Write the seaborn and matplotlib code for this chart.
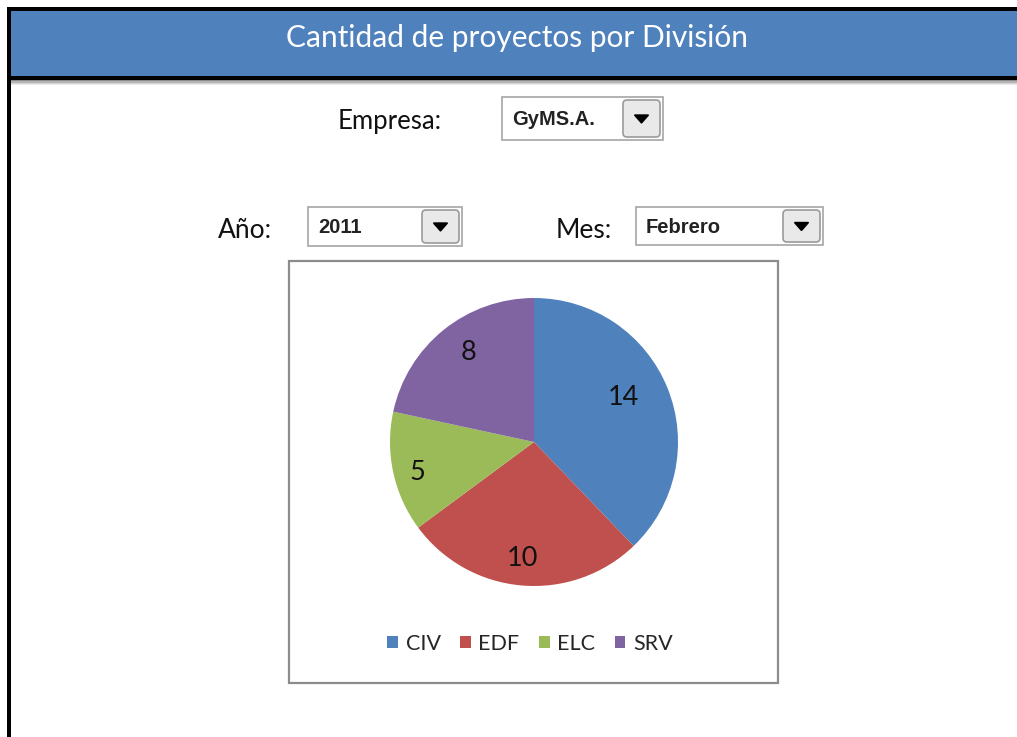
import numpy as np
import matplotlib
matplotlib.use("Agg")
import matplotlib.pyplot as plt
from matplotlib.patches import Rectangle, FancyBboxPatch, Polygon
import seaborn as sns

# data
divisions = ["CIV", "EDF", "ELC", "SRV"]
projects = [14, 10, 5, 8]
title = "Cantidad de proyectos por División"
empresa = "GyMS.A."
anio = "2011"
mes = "Febrero"

W, H = 1017, 737

sns.set_theme(style="white")
plt.rcParams['font.family'] = ['Lato', 'DejaVu Sans']
colors = ["#4F81BD", "#C0504D", "#9BBB59", "#8064A2"]


def combo(ax, x0, y0, x1, y1, text):
    # white field with a grey frame and the little arrow button
    ax.add_patch(Rectangle((x0, y0), x1 - x0, y1 - y0, facecolor="white",
                           edgecolor="#a6a6a6", lw=1.2))
    ax.text(x0 + 10, (y0 + y1) / 2 + 1, text, ha="left", va="center",
            fontsize=14.5, fontweight="bold", color="#222222",
            family=["Liberation Sans Narrow", "Liberation Sans"])
    bx0, bx1 = x1 - 40, x1 - 3
    ax.add_patch(FancyBboxPatch((bx0, y0 + 3), bx1 - bx0, y1 - y0 - 6,
                                boxstyle="round,pad=0,rounding_size=4",
                                facecolor="#e9e9e9", edgecolor="#9a9a9a",
                                lw=1.2))
    cx, cy = (bx0 + bx1) / 2, (y0 + y1) / 2
    ax.add_patch(Polygon([(cx - 7, cy - 3.5), (cx + 7, cy - 3.5),
                          (cx, cy + 4.5)], closed=True, color="black"))


fig = plt.figure(figsize=(W / 100, H / 100), dpi=100)
bg = fig.add_axes([0, 0, 1, 1])
bg.set_xlim(0, W)
bg.set_ylim(H, 0)
bg.axis("off")

# header band
bg.add_patch(Rectangle((10, 10), W - 10, 66, color="#4F81BD", lw=0))
bg.add_patch(Rectangle((7, 7), W - 7, 3.5, color="black", lw=0))
bg.add_patch(Rectangle((7, 7), 3.5, H - 7, color="black", lw=0))
bg.add_patch(Rectangle((7, 76), W - 7, 4, color="black", lw=0))
for i, c in enumerate(["#8a8a8a", "#b5b5b5", "#d5d5d5", "#ececec"]):
    bg.add_patch(Rectangle((10.5, 80 + i * 1.3), W - 10, 1.4, color=c, lw=0))
bg.text(517, 38, title, ha="center", va="center", color="white",
        fontsize=21.5)

# selectors
bg.text(390, 121, "Empresa:", ha="center", va="center", fontsize=18.5,
        color="#111111")
combo(bg, 502, 97, 663, 140, empresa)
bg.text(245, 230, "Año:", ha="center", va="center", fontsize=19,
        color="#111111")
combo(bg, 308, 207, 462, 246, anio)
bg.text(584, 230, "Mes:", ha="center", va="center", fontsize=19,
        color="#111111")
combo(bg, 636, 207, 823, 245, mes)

# chart frame
bg.add_patch(Rectangle((289, 261), 489, 422, fill=False,
                       edgecolor="#8c8c8c", lw=1.6))

# pie
cx, cy, r = 534, 442, 144
ax = fig.add_axes([(cx - r) / W, (H - cy - r) / H, 2 * r / W, 2 * r / H])
wedges, _ = ax.pie(projects, colors=colors, startangle=90,
                   counterclock=False, radius=1,
                   wedgeprops=dict(linewidth=0))
ax.set_xlim(-1, 1)
ax.set_ylim(-1, 1)
# data label placement (radius, angle nudge in degrees)
label_r = [0.69, 0.81, 0.84, 0.77]
label_nudge = [4.5, -0.8, 2.3, -3.0]
for w, v, lr, dn in zip(wedges, projects, label_r, label_nudge):
    th = np.deg2rad((w.theta1 + w.theta2) / 2 + dn)
    ax.text(lr * np.cos(th), lr * np.sin(th), str(v), ha="center",
            va="center", fontsize=19.5, color="#111111")

ax.legend(wedges, divisions, loc="center",
          bbox_to_anchor=(530 / W, 1 - 644 / H),
          bbox_transform=fig.transFigure, ncol=4, frameon=False,
          fontsize=15.5, handlelength=0.5, handleheight=0.5,
          handletextpad=0.35, columnspacing=0.9)

fig.savefig("out.png", dpi=100)
